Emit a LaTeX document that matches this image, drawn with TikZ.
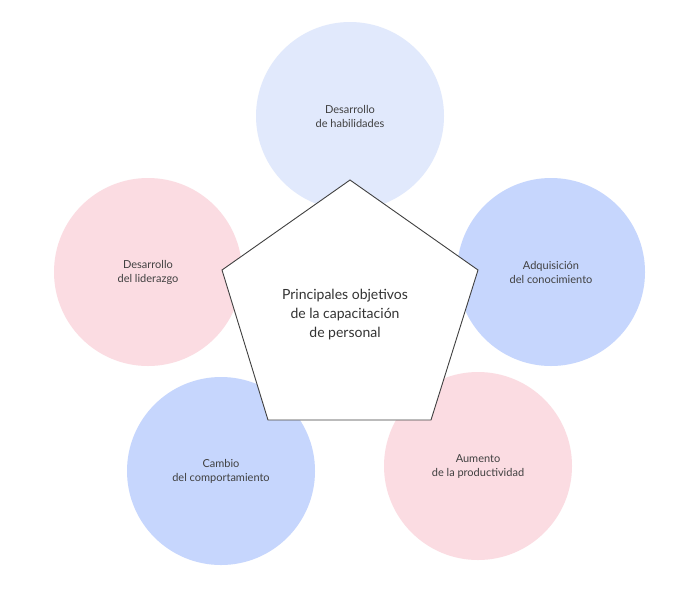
\documentclass[tikz,border=0pt]{standalone}
\usepackage{fontspec}
\setmainfont{Lato}
\begin{document}
\begin{tikzpicture}[x=1pt,y=-1pt,
  circ/.style={circle,minimum size=188pt,inner sep=0pt,draw=none,align=center,font=\fontsize{11}{14}\selectfont,text=black!75},
  pent/.style={draw=black!75,fill=white,line width=0.9pt,line join=miter}]
\useasboundingbox[fill=white] (0,0) rectangle (700,590);
\definecolor{lb}{HTML}{E1E9FC}
\definecolor{mb}{HTML}{C6D6FD}
\definecolor{pk}{HTML}{FBDCE2}
\node[circ,fill=lb] (c1) at (350,116) {};
\node[circ,fill=pk] (c2) at (148,272) {};
\node[circ,fill=mb] (c3) at (551,272) {};
\node[circ,fill=mb] (c4) at (221,471) {};
\node[circ,fill=pk] (c5) at (478,466) {};
\coordinate (p1) at (350,180);
\coordinate (p2) at (478,270);
\coordinate (p3) at (431,420);
\coordinate (p4) at (268,420);
\coordinate (p5) at (222,270);
\draw[pent] (p1) -- (p2) -- (p3) -- (p4) -- (p5) -- cycle;
\node[align=center,font=\fontsize{11}{14}\selectfont,text=black!75] at (c1) {Desarrollo\\de habilidades};
\node[align=center,font=\fontsize{11}{14}\selectfont,text=black!75] at (c2) {Desarrollo\\del liderazgo};
\node[align=center,font=\fontsize{11}{14}\selectfont,text=black!75] at (c3) {Adquisición\\del conocimiento};
\node[align=center,font=\fontsize{11}{14}\selectfont,text=black!75] at (c4) {Cambio\\del comportamiento};
\node[align=center,font=\fontsize{11}{14}\selectfont,text=black!75] at (c5) {Aumento\\de la productividad};
\node[align=center,font=\fontsize{14}{19}\selectfont,text=black!80] (t) at (345,315) {Principales objetivos\\de la capacitación\\de personal};
\end{tikzpicture}
\end{document}
